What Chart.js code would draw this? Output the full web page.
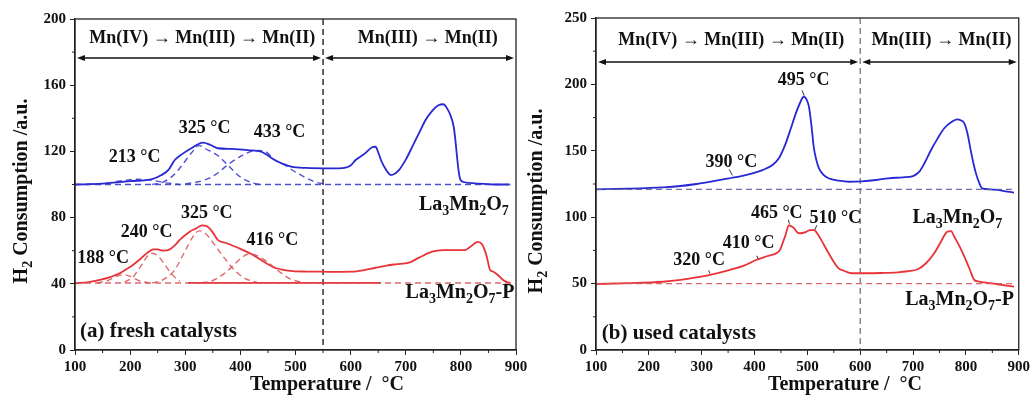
<!DOCTYPE html>
<html>
<head>
<meta charset="utf-8">
<script src="https://cdn.jsdelivr.net/npm/chart.js@4.4.1/dist/chart.umd.min.js"></script>
<style>
    body { margin: 0; background: #fff; width: 1033px; height: 396px; overflow: hidden; position: relative; }
    canvas { position: absolute; top: 0; }
    #left { left: 0; }
    #right { left: 520px; }
</style>
</head>
<body>
<canvas id="left" width="540" height="396"></canvas>
<canvas id="right" width="513" height="396"></canvas>
<script>
// ---- (a) fresh catalysts ----
const freshLMOTemp = [100,150,200,240,257,270,281,295,311,332,345,359,385,413,438,450,462,477,492,520,552,579,600,609,625,639,645,650,655,664,673,680,688,700,712,724,736,748,760,768,775,782,787,790,793,796,799,805,826,860,887];
const freshLMO = [100,100.5,102,103.3,105.7,109,114.8,118.5,121.9,125.3,124,121.9,121.5,120.8,119.8,117.5,114.8,112.5,110.8,110,109.8,109.8,111.5,114.8,118.5,122.5,122.8,119.5,114.8,109,105.7,106.5,108.8,115,122.9,131,139,144.5,148,148.5,146,141,134.9,127,116.8,108,103.1,101.5,100.7,100,100];

// fitted components (La3Mn2O7)
const fitLMO213Temp = [120,160,190,213,240,265,290];
const fitLMO213 = [100,101,102.5,103.2,102.5,101,100];
const fitLMO325Temp = [240,260,280,295,311,325,340,359,377,400,425,440];
const fitLMO325 = [100,101.5,106,112,119,123.5,121,117.5,111.8,104.5,100.7,100];
const fitLMO433Temp = [300,335,355,377,400,420,433,445,462,480,500,534,550];
const fitLMO433 = [100.3,102.7,106,111.8,117,120,120.5,120,115,111.8,107.5,101.7,100.5];
const baseLMOTemp = [100,890];
const baseLMO = [100,100];

const freshLMOPTemp = [100,125,145,165,181,193,205,218,230,242,250,260,272,282,290,308,320,330,338,344,352,359,375,398,420,447,465,480,495,520,549,575,603,625,645,665,682,706,724,748,766,790,808,817,831,838,843,847,853,859,868,876,884,890];
const freshLMOP = [40.3,41,42.3,44.2,46.3,48.8,51.4,54.8,58.4,60.8,60.8,60,60.8,63.5,66.5,71.5,73.5,75.3,75,73.5,70,66.5,64.5,61.4,58,52.4,49.4,48.3,47.7,47.4,47.3,47.2,47.3,48.3,49.7,51,51.8,52.8,55.8,59.4,60.4,60.4,60.4,62.4,65.3,64,60.5,56.4,48.3,47.3,45,42.5,41,40.5];

// fitted components (La3Mn2O7-P)
const fitLMOP188Temp = [140,160,175,188,200,215,235];
const fitLMOP188 = [40.5,42,44.5,45.5,44.5,42,40.5];
const fitLMOP240Temp = [190,205,220,232,240,250,262,275,290];
const fitLMOP240 = [41,44,51,57,58.5,57,52,46,41.5];
const fitLMOP325Temp = [240,260,280,300,315,325,335,350,370,390,410,430];
const fitLMOP325 = [40.5,42.5,48,60,69,72,71,65,56,48,43,41];
const fitLMOP416Temp = [330,350,370,390,405,416,430,450,470,490,510];
const fitLMOP416 = [40.5,42,46,52,56.5,58,57,53,47.5,43,41];
const baseLMOPTemp = [100,890];
const baseLMOP = [40.5,40.5];
const baseLMOPSolidTemp = [305,655];
const baseLMOPSolid = [40.5,40.5];

// ---- (b) used catalysts ----
const usedLMOTemp = [100,160,227,260,290,320,352,375,396,415,434,447,459,468,478,486,493,498,503,508,512,517,522,530,540,560,578,603,630,653,680,700,712,722,734,746,759,772,784,790,797,803,809,814,819,825,831,845,859,875,891];
const usedLMO = [121,121.5,122.5,123.5,125,127,129.3,131,133,135.5,139.3,145,155.6,166,178,186,190.7,189,183.2,168,153,143,136.8,132,129.3,127.5,126.7,127,128,129.3,130,131,134.3,141,150.6,159,167,171.5,173.7,173,170.7,163,150.6,141,133,126,121.7,121,120.5,119.5,118.5];
const usedLMOPTemp = [100,160,227,260,290,320,352,380,403,425,443,449,453,459,465,470,475,481,487,495,503,512,520,528,540,559,570,584,609,640,671,690,709,725,740,752,765,772,778,788,797,807,816,825,834,860,891];
const usedLMOP = [49.7,50.3,51.4,52.8,54.7,57,60.2,63.5,67.8,70.8,73.3,76,80.3,87,94.1,93,91.6,88.5,87.9,88.5,90,90.4,87,81.6,73,61.5,59.5,57.8,57.8,58,58.5,59.3,60.8,65.5,72.8,81,89.1,89.5,85.3,78,70.3,61,52.7,51.5,51,49.5,47.7];
const baseUsedTemp = [100,895];
const baseUsedLMO = [121,121];
const baseUsedLMOP = [50,50];

const xTicks = [100,200,300,400,500,600,700,800,900];
const yTicksFresh = [0,40,80,120,160,200];
const yTicksUsed = [0,50,100,150,200,250];

const FONT = '"Liberation Serif", "Times New Roman", serif';
const BLUE = '#2727d4';
const RED = '#e83338';

function pts(xs, ys) {
    return xs.map((x, i) => ({ x: x, y: ys[i] }));
}

function line(xs, ys, color, width, dash) {
    return {
        data: pts(xs, ys),
        borderColor: color,
        borderWidth: width,
        borderDash: dash || [],
        pointRadius: 0,
        fill: false,
        cubicInterpolationMode: 'monotone'
    };
}

// text with "_x" meaning subscript x
function richText(ctx, text, x, y, size, align) {
    const parts = [];
    for (let i = 0; i < text.length; i++) {
        if (text[i] === '_') { parts.push([text[i + 1], true]); i++; }
        else if (parts.length && !parts[parts.length - 1][1]) parts[parts.length - 1][0] += text[i];
        else parts.push([text[i], false]);
    }
    let w = 0;
    parts.forEach(p => {
        ctx.font = `bold ${p[1] ? Math.round(size * 0.68) : size}px ${FONT}`;
        w += ctx.measureText(p[0]).width;
    });
    let cx = align === 'right' ? x - w : (align === 'center' ? x - w / 2 : x);
    ctx.textAlign = 'left';
    ctx.textBaseline = 'middle';
    parts.forEach(p => {
        ctx.font = `bold ${p[1] ? Math.round(size * 0.68) : size}px ${FONT}`;
        ctx.fillText(p[0], cx, p[1] ? y + size * 0.3 : y);
        cx += ctx.measureText(p[0]).width;
    });
}

function arrowHead(ctx, x, y, dir) {
    ctx.beginPath();
    ctx.moveTo(x, y);
    ctx.lineTo(x - dir * 8, y - 3);
    ctx.lineTo(x - dir * 8, y + 3);
    ctx.closePath();
    ctx.fill();
}

function decoPlugin(cfg) {
    return {
        id: 'deco',
        beforeDatasetsDraw(chart) {
            const { ctx, chartArea: a, scales: { x } } = chart;
            const px = x.getPixelForValue(cfg.split);
            ctx.save();
            ctx.strokeStyle = cfg.splitColor;
            ctx.lineWidth = 1.3;
            ctx.setLineDash([6, 4]);
            ctx.beginPath();
            ctx.moveTo(px, a.top);
            ctx.lineTo(px, a.bottom);
            ctx.stroke();
            ctx.restore();
        },
        afterDraw(chart) {
            const { ctx, chartArea: a, scales: { x, y } } = chart;
            ctx.save();
            // frame
            ctx.strokeStyle = '#222';
            ctx.lineWidth = 1.3;
            ctx.strokeRect(a.left, a.top, a.right - a.left, a.bottom - a.top);
            // minor ticks
            ctx.lineWidth = 1;
            ctx.beginPath();
            for (let v = 150; v < 900; v += 100) {
                const p = x.getPixelForValue(v);
                ctx.moveTo(p, a.bottom); ctx.lineTo(p, a.bottom + 3);
            }
            for (let v = cfg.minorY; v < y.max; v += cfg.minorY * 2) {
                const p = y.getPixelForValue(v);
                ctx.moveTo(a.left, p); ctx.lineTo(a.left - 3, p);
            }
            ctx.stroke();
            // region arrows
            ctx.fillStyle = '#111';
            ctx.strokeStyle = '#111';
            ctx.lineWidth = 1.4;
            const ay = y.getPixelForValue(cfg.arrowY);
            const sx = x.getPixelForValue(cfg.split);
            const segs = [[a.left + 2, sx - 2], [sx + 2, a.right - 2]];
            segs.forEach(s => {
                ctx.beginPath();
                ctx.moveTo(s[0] + 4, ay); ctx.lineTo(s[1] - 4, ay);
                ctx.stroke();
                arrowHead(ctx, s[0], ay, -1);
                arrowHead(ctx, s[1], ay, 1);
            });
            // pointer marks
            ctx.strokeStyle = '#333';
            ctx.lineWidth = 1;
            (cfg.pointers || []).forEach(m => {
                ctx.beginPath();
                ctx.moveTo(x.getPixelForValue(m[0]), y.getPixelForValue(m[1]));
                ctx.lineTo(x.getPixelForValue(m[2]), y.getPixelForValue(m[3]));
                ctx.stroke();
            });
            // labels
            ctx.fillStyle = '#111';
            cfg.labels.forEach(l => {
                richText(ctx, l.text, x.getPixelForValue(l.x), y.getPixelForValue(l.y), l.size || 18, l.align || 'center');
            });
            // axis titles
            richText(ctx, 'Temperature /  °C', cfg.xTitleX, 385, 20, 'center');
            ctx.translate(cfg.yTitleX, cfg.yTitleY);
            ctx.rotate(-Math.PI / 2);
            richText(ctx, 'H_2 Consumption /a.u.', 0, 0, 20, 'center');
            ctx.restore();
        }
    };
}

function makeChart(id, datasets, yMax, yTicks, pad, yWidth, cfg) {
    const tickFont = { family: FONT, size: 15, weight: 'bold' };
    return new Chart(document.getElementById(id), {
        type: 'line',
        data: { datasets: datasets },
        options: {
            responsive: false,
            animation: false,
            layout: { padding: pad },
            plugins: { legend: { display: false }, tooltip: { enabled: false } },
            scales: {
                x: {
                    type: 'linear', min: 100, max: 900,
                    afterBuildTicks: s => { s.ticks = xTicks.map(v => ({ value: v })); },
                    ticks: { font: tickFont, color: '#111', padding: 3, maxRotation: 0 },
                    grid: { drawOnChartArea: false, tickLength: 5, color: '#222' },
                    border: { color: '#222', width: 1.3 },
                    afterFit: s => { s.height = 46; }
                },
                y: {
                    min: 0, max: yMax,
                    afterBuildTicks: s => { s.ticks = yTicks.map(v => ({ value: v })); },
                    ticks: { font: tickFont, color: '#111', padding: 4 },
                    grid: { drawOnChartArea: false, tickLength: 5, color: '#222' },
                    border: { color: '#222', width: 1.3 },
                    afterFit: s => { s.width = yWidth; }
                }
            }
        },
        plugins: [decoPlugin(cfg)]
    });
}

const blueFit = 'rgba(50,50,200,0.85)';
const redFit = 'rgba(215,80,85,0.85)';

makeChart('left', [
    line(baseLMOTemp, baseLMO, blueFit, 1.5, [6, 4]),
    line(fitLMO213Temp, fitLMO213, blueFit, 1.4, [6, 4]),
    line(fitLMO325Temp, fitLMO325, blueFit, 1.4, [6, 4]),
    line(fitLMO433Temp, fitLMO433, blueFit, 1.4, [6, 4]),
    line(baseLMOPTemp, baseLMOP, redFit, 1.5, [6, 4]),
    line(baseLMOPSolidTemp, baseLMOPSolid, RED, 1.8),
    line(fitLMOP188Temp, fitLMOP188, redFit, 1.4, [6, 4]),
    line(fitLMOP240Temp, fitLMOP240, redFit, 1.4, [6, 4]),
    line(fitLMOP325Temp, fitLMOP325, redFit, 1.4, [6, 4]),
    line(fitLMOP416Temp, fitLMOP416, redFit, 1.4, [6, 4]),
    line(freshLMOTemp, freshLMO, BLUE, 1.8),
    line(freshLMOPTemp, freshLMOP, RED, 1.8)
], 200, yTicksFresh, { top: 19, right: 24, left: 0, bottom: 0 }, 75, {
    split: 550, splitColor: '#111', arrowY: 176.4, minorY: 20,
    xTitleX: 327, yTitleX: 22, yTitleY: 191,
    labels: [
        { text: 'Mn(IV) → Mn(III) → Mn(II)', x: 331, y: 188.5 },
        { text: 'Mn(III) → Mn(II)', x: 740, y: 188.5 },
        { text: '213 °C', x: 208, y: 116.6 },
        { text: '325 °C', x: 335, y: 134 },
        { text: '433 °C', x: 471, y: 131.7 },
        { text: 'La_3Mn_2O_7', x: 887, y: 87.6, align: 'right', size: 20 },
        { text: '240 °C', x: 230, y: 71 },
        { text: '325 °C', x: 339, y: 82.8 },
        { text: '188 °C', x: 151, y: 55.6 },
        { text: '416 °C', x: 458, y: 66.5 },
        { text: 'La_3Mn_2O_7-P', x: 897, y: 34.4, align: 'right', size: 20 },
        { text: '(a) fresh catalysts', x: 109, y: 10.9, align: 'left', size: 21 }
    ]
});

makeChart('right', [
    line(baseUsedTemp, baseUsedLMO, 'rgba(95,95,160,0.9)', 1.3, [6, 4]),
    line(baseUsedTemp, baseUsedLMOP, 'rgba(215,90,95,0.9)', 1.3, [6, 4]),
    line(usedLMOTemp, usedLMO, BLUE, 1.8),
    line(usedLMOPTemp, usedLMOP, RED, 1.8)
], 250, yTicksUsed, { top: 18, right: 12, left: 0, bottom: 0 }, 76, {
    split: 600, splitColor: '#777', arrowY: 216.9, minorY: 25,
    xTitleX: 325, yTitleX: 17, yTitleY: 201,
    pointers: [[490, 195.5, 494, 191.5], [352, 136, 358, 131.5], [464, 98, 466, 95], [518, 94, 514, 90.5], [404, 71, 407, 68.5], [313, 60, 316, 57.5]],
    labels: [
        { text: 'Mn(IV) → Mn(III) → Mn(II)', x: 356, y: 233.4 },
        { text: 'Mn(III) → Mn(II)', x: 754, y: 233.4 },
        { text: '495 °C', x: 493, y: 203.3 },
        { text: '390 °C', x: 356, y: 141.6 },
        { text: '465 °C', x: 442, y: 103.2 },
        { text: '510 °C', x: 553, y: 99.4 },
        { text: '410 °C', x: 389, y: 80.6 },
        { text: '320 °C', x: 295, y: 67.8 },
        { text: 'La_3Mn_2O_7', x: 869, y: 99.4, align: 'right', size: 20 },
        { text: 'La_3Mn_2O_7-P', x: 891, y: 37.7, align: 'right', size: 20 },
        { text: '(b) used catalysts', x: 111, y: 12, align: 'left', size: 21 }
    ]
});
</script>
</body>
</html>
